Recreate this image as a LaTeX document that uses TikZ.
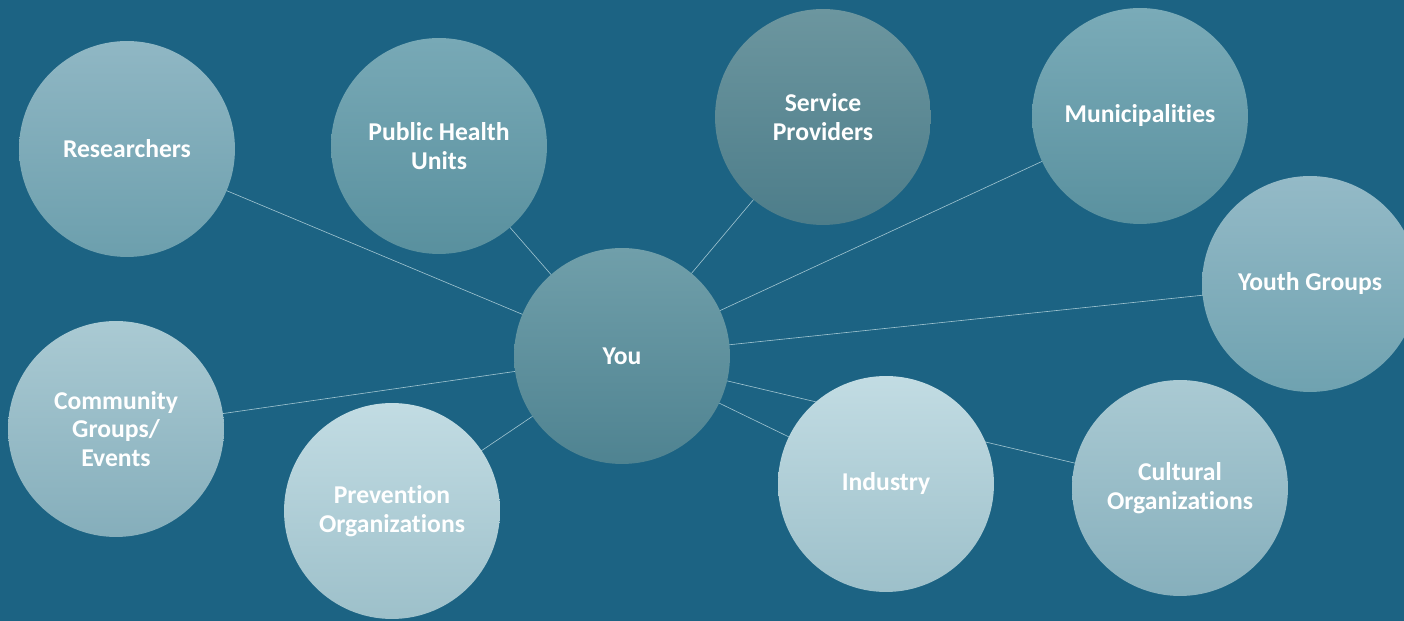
\documentclass[tikz,border=0pt]{standalone}
\usepackage{fontspec}
\setmainfont[Ligatures=NoCommon]{Carlito}
\definecolor{bgc}{RGB}{28,99,131}
\definecolor{linec}{RGB}{160,196,208}
\pgfdeclarelayer{bglayer}
\pgfdeclarelayer{lineslayer}
\pgfsetlayers{bglayer,lineslayer,main}
\tikzset{
  bubble/.style={circle, draw=none, inner sep=0pt, minimum size=4.32cm,
    text=white, align=center, font=\fontsize{14.6}{16.4}\selectfont\bfseries},
  link/.style={draw=linec, line width=0.35pt},
}
\begin{document}
\begin{tikzpicture}[x=0.02cm,y=-0.02cm]
\begin{pgfonlayer}{bglayer}
\fill[bgc] (0,0) rectangle (1404,621);
\end{pgfonlayer}
\useasboundingbox (0,0) rectangle (1404,621);
\clip (0,0) rectangle (1404,621);
\node[bubble, top color={rgb,255:red,144;green,183;blue,196}, bottom color={rgb,255:red,108;green,159;blue,173}] (res) at (127,149) {Researchers};
\node[bubble, top color={rgb,255:red,120;green,169;blue,182}, bottom color={rgb,255:red,89;green,144;blue,158}] (phu) at (439,146) {Public Health\\Units};
\node[bubble, top color={rgb,255:red,108;green,150;blue,159}, bottom color={rgb,255:red,77;green,125;blue,138}] (sp) at (823,117) {Service\\Providers};
\node[bubble, top color={rgb,255:red,122;green,171;blue,184}, bottom color={rgb,255:red,90;green,145;blue,159}] (mun) at (1140,116) {Municipalities};
\node[bubble, top color={rgb,255:red,148;green,186;blue,199}, bottom color={rgb,255:red,111;green,162;blue,176}] (youth) at (1310,284) {Youth Groups};
\node[bubble, top color={rgb,255:red,112;green,159;blue,170}, bottom color={rgb,255:red,79;green,131;blue,145}] (you) at (622,356) {You};
\node[bubble, top color={rgb,255:red,170;green,202;blue,211}, bottom color={rgb,255:red,133;green,174;blue,187}] (com) at (116,429) {Community\\Groups/\\Events};
\node[bubble, top color={rgb,255:red,194;green,220;blue,227}, bottom color={rgb,255:red,157;green,192;blue,202}] (prev) at (392,511) {Prevention\\Organizations};
\node[bubble, top color={rgb,255:red,194;green,220;blue,227}, bottom color={rgb,255:red,157;green,192;blue,202}] (ind) at (886,484) {Industry};
\node[bubble, top color={rgb,255:red,170;green,202;blue,211}, bottom color={rgb,255:red,134;green,175;blue,188}] (cult) at (1180,488) {Cultural\\Organizations};
\begin{pgfonlayer}{lineslayer}
\foreach \t in {res,phu,sp,mun,youth,com,prev,ind,cult}
  \draw[link] (you.center) -- (\t.center);
\end{pgfonlayer}
\end{tikzpicture}
\end{document}
